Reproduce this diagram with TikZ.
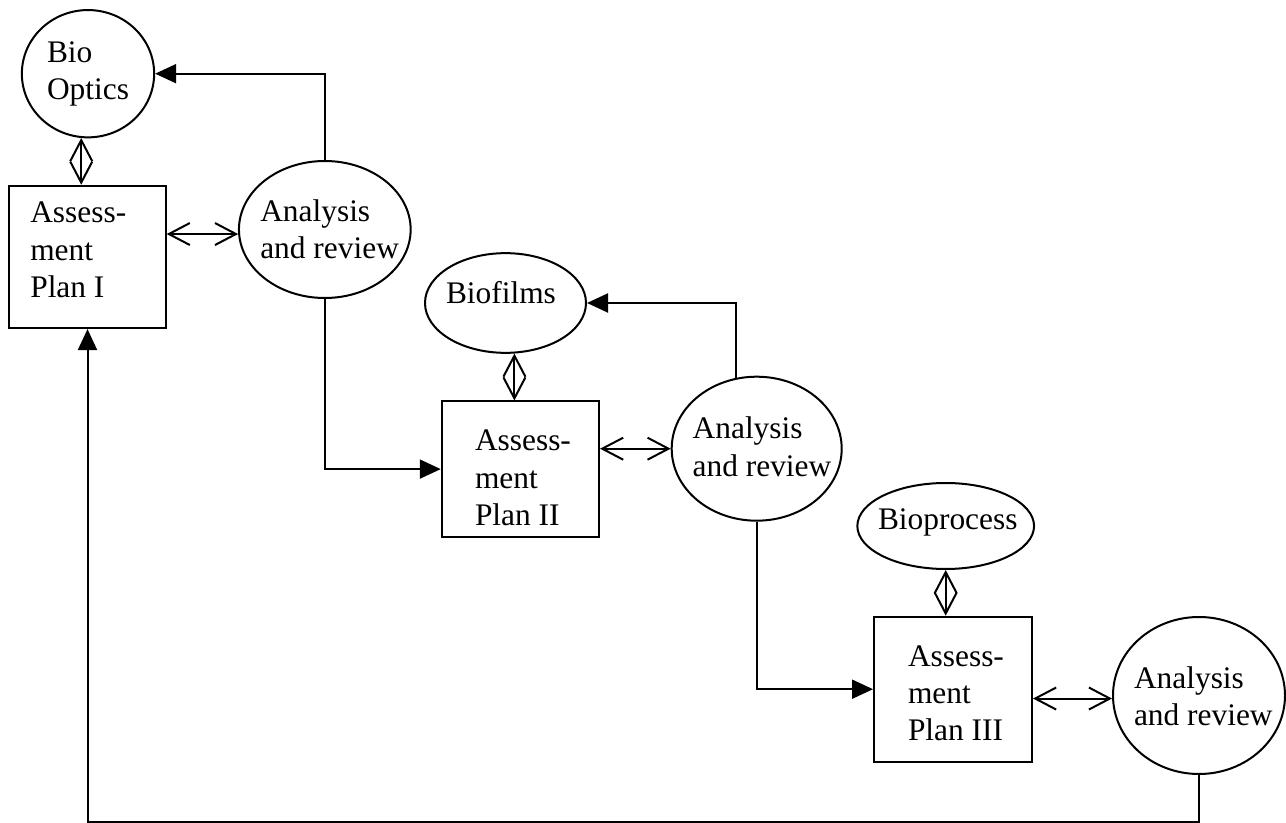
\documentclass[tikz,border=0pt]{standalone}
\usepackage{fontspec}
\setmainfont{Liberation Serif}
\usetikzlibrary{arrows.meta,shapes.geometric,calc}
\begin{document}
\begin{tikzpicture}[x=0.5pt,y=-0.5pt,
  line width=1pt,
  ell/.style={draw, ellipse, inner sep=0pt},
  boxnode/.style={draw, rectangle, inner sep=0pt},
  txt/.style={anchor=west, align=left, inner sep=0pt, font=\fontsize{15.7pt}{18.7pt}\selectfont},
  flow/.style={-{Triangle[length=10.5pt,width=9.5pt]}},
  dbl/.style={{Straight Barb[length=10.5pt,width=11pt]}-{Straight Barb[length=10.5pt,width=11pt]}},
]
\useasboundingbox (0,0) rectangle (1286,823);

% ellipses
\node[ell, minimum width=66.15pt, minimum height=63.65pt] (bo) at (88,73.7) {};
\node[ell, minimum width=85.85pt, minimum height=68.5pt] (a1) at (324.8,229.5) {};
\node[ell, minimum width=80.5pt, minimum height=49.85pt] (bf) at (505.5,303) {};
\node[ell, minimum width=85pt, minimum height=72pt] (a2) at (756.7,448.7) {};
\node[ell, minimum width=88.35pt, minimum height=43pt] (bp) at (945.7,526) {};
\node[ell, minimum width=86pt, minimum height=78.5pt] (a3) at (1199,695.5) {};

% boxes
\node[boxnode, minimum width=78.2pt, minimum height=71.15pt] (b1) at (87.5,256.9) {};
\node[boxnode, minimum width=78.65pt, minimum height=67.6pt] (b2) at (520.4,469.1) {};
\node[boxnode, minimum width=79pt, minimum height=72.5pt] (b3) at (953,689.2) {};

% texts
\node[txt] (tbo) at (46,74.2) {Bio\\Optics};
\node[txt] (tb1) at (29.3,250) {Assess-\\ment\\Plan I};
\node[txt] (ta1) at (259.3,229.3) {Analysis\\and review};
\node[txt] (tbf) at (445,292.6) {Biofilms};
\node[txt] (tb2) at (474,478.1) {Assess-\\ment\\Plan II};
\node[txt] (ta2) at (691.7,446.8) {Analysis\\and review};
\node[txt] (tbp) at (877,522) {Bioprocess};
\node[txt] (tb3) at (907,693.3) {Assess-\\ment\\Plan III};
\node[txt] (ta3) at (1133,696.3) {Analysis\\and review};

% connectors
\draw[flow] (a1.north) |- (bo.east);
\draw[dbl] (bo.264) -- (bo.264 |- b1.north);
\draw[dbl] (a1.183 -| b1.east) -- (a1.183);
\draw[flow] (a1.south) |- (b2.west);
\draw[dbl] (bf.280) -- (bf.280 |- b2.north);
\draw[dbl] (a2.west -| b2.east) -- (a2.west);
\draw[flow] (a2.106) |- (bf.east);
\draw[flow] (a2.south) |- (b3.west);
\draw[dbl] (bp.south) -- (bp.south |- b3.north);
\draw[dbl] (a3.182 -| b3.east) -- (a3.182);
\coordinate (fb) at ($(a3.south)+(0,47)$);
\draw[flow] (a3.south) -- (fb) -| (b1.south);
\end{tikzpicture}
\end{document}
